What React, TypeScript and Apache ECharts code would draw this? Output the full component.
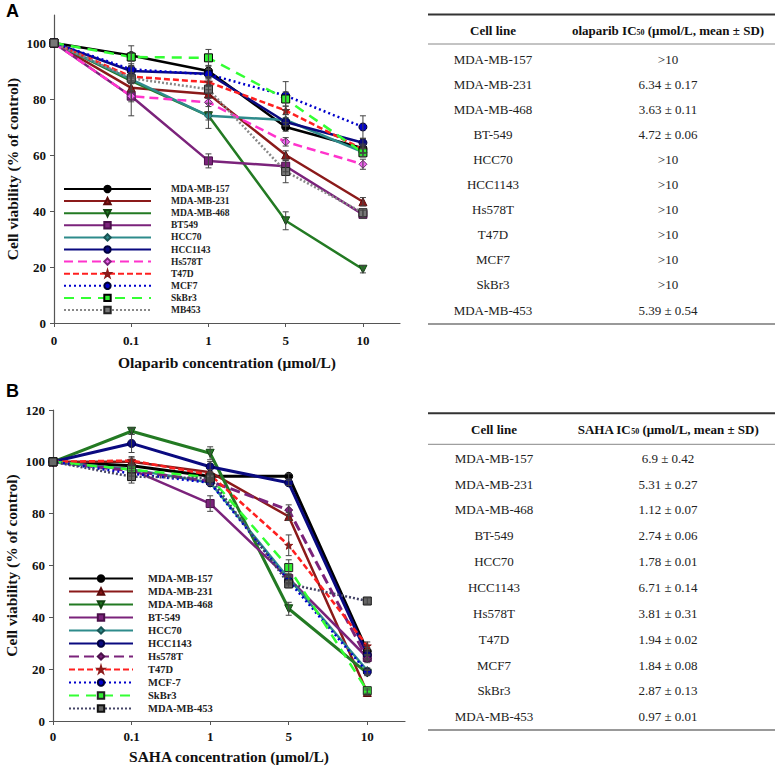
import React, { useEffect, useRef } from "react";
import * as echarts from "echarts";

// ---------- data ----------
const X_LABELS = ["0", "0.1", "1", "5", "10"];

const A_NAMES = ["MDA-MB-157", "MDA-MB-231", "MDA-MB-468", "BT549", "HCC70", "HCC1143", "Hs578T", "T47D", "MCF7", "SkBr3", "MB453"];
const A_MDA157 = [100, 95.5, 90.0, 70.0, 62.4];
const A_MDA231 = [100, 84.0, 81.8, 60.0, 43.3];
const A_MDA468 = [100, 86.5, 74.0, 36.5, 19.2];
const A_BT549 = [100, 81.0, 57.9, 56.0, 38.8];
const A_HCC70 = [100, 87.0, 74.0, 72.5, 61.0];
const A_HCC1143 = [100, 90.0, 89.0, 71.8, 64.4];
const A_HS578T = [100, 81.0, 78.8, 64.7, 56.7];
const A_T47D = [100, 88.0, 86.0, 75.9, 62.0];
const A_MCF7 = [100, 90.6, 88.8, 81.2, 70.0];
const A_SKBR3 = [100, 95.0, 94.7, 80.0, 60.8];
const A_MB453 = [100, 87.4, 83.5, 54.1, 39.4];

const A_ERR_MDA157 = [0, 3.5, 2, 1.5, 1.5];
const A_ERR_MDA231 = [0, 1.5, 1.5, 1.5, 1.5];
const A_ERR_MDA468 = [0, 1, 1.5, 3.2, 1.3];
const A_ERR_BT549 = [0, 7, 2.5, 2, 1.5];
const A_ERR_HCC70 = [0, 1.5, 4.5, 2, 1.5];
const A_ERR_HCC1143 = [0, 1.5, 1.5, 1.5, 1.5];
const A_ERR_HS578T = [0, 2, 1.5, 1.5, 1.8];
const A_ERR_T47D = [0, 1.5, 1.5, 1.5, 1.5];
const A_ERR_MCF7 = [0, 2, 2, 5, 4];
const A_ERR_SKBR3 = [0, 1.5, 3, 2.5, 1.5];
const A_ERR_MB453 = [0, 1.5, 1.5, 4, 1.5];

const B_NAMES = ["MDA-MB-157", "MDA-MB-231", "MDA-MB-468", "BT-549", "HCC70", "HCC1143", "Hs578T", "T47D", "MCF-7", "SkBr3", "MDA-MB-453"];
const B_MDA157 = [100, 98.5, 94.4, 94.4, 26.9];
const B_MDA231 = [100, 100.0, 96.0, 78.9, 11.0];
const B_MDA468 = [100, 111.8, 103.3, 43.3, 18.5];
const B_BT549 = [100, 97.0, 83.9, 55.0, 24.5];
const B_HCC70 = [100, 97.0, 92.0, 55.0, 19.5];
const B_HCC1143 = [100, 107.1, 98.1, 91.9, 25.5];
const B_HS578T = [100, 96.5, 92.5, 81.4, 24.0];
const B_T47D = [100, 100.5, 95.0, 67.8, 29.0];
const B_MCF7 = [100, 95.5, 91.9, 54.0, 18.9];
const B_SKBR3 = [100, 97.0, 94.0, 59.2, 11.7];
const B_MB453 = [100, 94.3, 93.7, 52.9, 46.3];

const B_ERR_MDA157 = [0, 1, 1, 1, 1.5];
const B_ERR_MDA231 = [0, 1.5, 1, 1.5, 1];
const B_ERR_MDA468 = [0, 1.2, 2.5, 2.5, 1];
const B_ERR_BT549 = [0, 1.5, 3, 2, 1];
const B_ERR_HCC70 = [0, 1, 1, 1.5, 1];
const B_ERR_HCC1143 = [0, 3.5, 2, 1, 1.5];
const B_ERR_HS578T = [0, 1, 1, 2, 1.5];
const B_ERR_T47D = [0, 1.5, 1, 4, 1.5];
const B_ERR_MCF7 = [0, 1, 1, 1.5, 1];
const B_ERR_SKBR3 = [0, 1.5, 1, 3, 1];
const B_ERR_MB453 = [0, 2.5, 1.5, 1.5, 1.2];

const TABLE_CELL_LINES = ["MDA-MB-157", "MDA-MB-231", "MDA-MB-468", "BT-549", "HCC70", "HCC1143", "Hs578T", "T47D", "MCF7", "SkBr3", "MDA-MB-453"];
const OLAPARIB_IC50 = [">10", "6.34 ± 0.17", "3.63 ± 0.11", "4.72 ± 0.06", ">10", ">10", ">10", ">10", ">10", ">10", "5.39 ± 0.54"];
const SAHA_IC50 = ["6.9 ± 0.42", "5.31 ± 0.27", "1.12 ± 0.07", "2.74 ± 0.06", "1.78 ± 0.01", "6.71 ± 0.14", "3.81 ± 0.31", "1.94 ± 0.02", "1.84 ± 0.08", "2.87 ± 0.13", "0.97 ± 0.01"];

const A_VALUES = [A_MDA157, A_MDA231, A_MDA468, A_BT549, A_HCC70, A_HCC1143, A_HS578T, A_T47D, A_MCF7, A_SKBR3, A_MB453];
const A_ERRORS = [A_ERR_MDA157, A_ERR_MDA231, A_ERR_MDA468, A_ERR_BT549, A_ERR_HCC70, A_ERR_HCC1143, A_ERR_HS578T, A_ERR_T47D, A_ERR_MCF7, A_ERR_SKBR3, A_ERR_MB453];
const B_VALUES = [B_MDA157, B_MDA231, B_MDA468, B_BT549, B_HCC70, B_HCC1143, B_HS578T, B_T47D, B_MCF7, B_SKBR3, B_MB453];
const B_ERRORS = [B_ERR_MDA157, B_ERR_MDA231, B_ERR_MDA468, B_ERR_BT549, B_ERR_HCC70, B_ERR_HCC1143, B_ERR_HS578T, B_ERR_T47D, B_ERR_MCF7, B_ERR_SKBR3, B_ERR_MB453];

// ---------- styles ----------
const SERIF = "'Liberation Serif', 'Times New Roman', serif";
const SANS = "'Liberation Sans', Arial, sans-serif";
const STAR = "path://M50,0 L61,35 L98,35 L68,57 L79,91 L50,70 L21,91 L32,57 L2,35 L39,35 Z";

type Sty = { color: string; dash?: number[]; width?: number; symbol: string; rotate?: number; fill: string; border: string };

const A_STYLES: Sty[] = [
  { color: "#000000", symbol: "circle", fill: "#000000", border: "#000000" },
  { color: "#8b1a1a", symbol: "triangle", fill: "#8b1a1a", border: "#5a0a0a" },
  { color: "#237a23", symbol: "triangle", rotate: 180, fill: "#237a23", border: "#124412" },
  { color: "#7b237b", symbol: "rect", fill: "#7b237b", border: "#4a104a" },
  { color: "#2e8b8b", symbol: "diamond", fill: "#2e8b8b", border: "#1a5555" },
  { color: "#0a0a80", symbol: "circle", fill: "#0a0a80", border: "#000040" },
  { color: "#ff33cc", dash: [9, 5], symbol: "diamond", fill: "#ee66ee", border: "#7b237b" },
  { color: "#ff2020", dash: [6, 3], symbol: STAR, fill: "#8b1a1a", border: "#8b1a1a" },
  { color: "#0000cc", dash: [2, 3], symbol: "circle", fill: "#0000cc", border: "#000033" },
  { color: "#33ff33", dash: [10, 7], symbol: "rect", fill: "#33ee33", border: "#000000" },
  { color: "#888888", dash: [2, 2], symbol: "rect", fill: "#777777", border: "#222222" },
];

const B_STYLES: Sty[] = [
  { color: "#000000", width: 3, symbol: "circle", fill: "#000000", border: "#000000" },
  { color: "#8b1a1a", symbol: "triangle", fill: "#8b1a1a", border: "#5a0a0a" },
  { color: "#237a23", width: 3, symbol: "triangle", rotate: 180, fill: "#237a23", border: "#124412" },
  { color: "#7b237b", symbol: "rect", fill: "#7b237b", border: "#4a104a" },
  { color: "#2e8b8b", symbol: "diamond", fill: "#2e8b8b", border: "#1a5555" },
  { color: "#0a0a80", width: 3, symbol: "circle", fill: "#0a0a80", border: "#000040" },
  { color: "#7b237b", dash: [10, 5], width: 3, symbol: "diamond", fill: "#7b237b", border: "#4a104a" },
  { color: "#ff2020", dash: [6, 3], symbol: STAR, fill: "#8b1a1a", border: "#8b1a1a" },
  { color: "#0000cc", dash: [2, 3], symbol: "circle", fill: "#0000cc", border: "#000033" },
  { color: "#33ff33", dash: [10, 7], symbol: "rect", fill: "#33ee33", border: "#222222" },
  { color: "#444466", dash: [2, 2], symbol: "rect", fill: "#666666", border: "#111111" },
];

function lineSeries(names: string[], values: number[][], styles: Sty[]) {
  return names.map((name, k) => {
    const s = styles[k];
    return {
      type: "line",
      name,
      data: values[k].map((v, i) => [i, v]),
      symbol: s.symbol,
      symbolSize: 8,
      symbolRotate: s.rotate ?? 0,
      showAllSymbol: true,
      lineStyle: { color: s.color, width: s.width ?? 2.5, type: s.dash ?? "solid" },
      itemStyle: { color: s.fill, borderColor: s.border, borderWidth: 1 },
      emphasis: { disabled: true },
      z: 3,
    };
  });
}

function errorSeries(values: number[][], errors: number[][]) {
  const data: number[][] = [];
  values.forEach((vals, k) => {
    vals.forEach((v, i) => {
      const e = errors[k][i];
      if (e > 0) data.push([i, v - e, v + e]);
    });
  });
  return {
    type: "custom",
    name: "err",
    data,
    encode: { x: 0, y: [1, 2] },
    z: 4,
    silent: true,
    renderItem: (_p: any, api: any) => {
      const x = api.value(0);
      const lo = api.coord([x, api.value(1)]);
      const hi = api.coord([x, api.value(2)]);
      const w = 3;
      const st = { stroke: "#444", lineWidth: 1 };
      return {
        type: "group",
        children: [
          { type: "line", shape: { x1: lo[0], y1: lo[1], x2: hi[0], y2: hi[1] }, style: st },
          { type: "line", shape: { x1: lo[0] - w, y1: lo[1], x2: lo[0] + w, y2: lo[1] }, style: st },
          { type: "line", shape: { x1: hi[0] - w, y1: hi[1], x2: hi[0] + w, y2: hi[1] }, style: st },
        ],
      };
    },
  };
}

type TableGeo = { x0: number; x1: number; c1: number; c2: number; topRule: number; headerY: number; headerRule: number; rowY0: number; rowStep: number; bottomRule: number };

function tableGraphics(geo: TableGeo, drugLabel: string, values: string[]) {
  const els: any[] = [];
  const rule = (y: number, w: number, c: string) => ({
    type: "line",
    shape: { x1: geo.x0, y1: y, x2: geo.x1, y2: y },
    style: { stroke: c, lineWidth: w },
  });
  els.push(rule(geo.topRule, 2, "#333"));
  els.push(rule(geo.headerRule, 1, "#888"));
  els.push(rule(geo.bottomRule, 1.5, "#777"));
  els.push({
    type: "text", x: geo.c1, y: geo.headerY,
    style: { text: "Cell line", align: "center", verticalAlign: "middle", fontFamily: SERIF, fontWeight: "bold", fontSize: 13, fill: "#111" },
  });
  els.push({
    type: "text", x: geo.c2, y: geo.headerY,
    style: {
      text: `{b|${drugLabel} IC}{s|50}{b| (μmol/L, mean ± SD)}`,
      align: "center", verticalAlign: "middle",
      rich: {
        b: { fontFamily: SERIF, fontWeight: "bold", fontSize: 13, fill: "#111" },
        s: { fontFamily: SERIF, fontWeight: "bold", fontSize: 8, fill: "#111", padding: [4, 0, 0, 0] },
      },
    },
  });
  TABLE_CELL_LINES.forEach((name, i) => {
    const y = geo.rowY0 + i * geo.rowStep;
    els.push({ type: "text", x: geo.c1, y, style: { text: name, align: "center", verticalAlign: "middle", fontFamily: SERIF, fontSize: 13, fill: "#222" } });
    els.push({ type: "text", x: geo.c2, y, style: { text: values[i], align: "center", verticalAlign: "middle", fontFamily: SERIF, fontSize: 13, fill: "#222" } });
  });
  return els;
}

type PanelCfg = {
  letter: string;
  names: string[];
  values: number[][];
  errors: number[][];
  styles: Sty[];
  grid: { left: number; right: number; top: number; bottom: number };
  xMax: number;
  yMax: number;
  yTicks: number[];
  xName: string;
  xNameGap: number;
  xLabelMargin: number;
  legend: { left: number; top: number; itemWidth: number; itemGap: number; fontSize: number; pad: number };
  table: TableGeo;
  drug: string;
  ic50: string[];
};

function buildOption(p: PanelCfg) {
  const axisLine = { show: true, lineStyle: { color: "#555", width: 1.2 } };
  const labelStyle = { fontFamily: SERIF, fontWeight: "bold" as const, fontSize: 13, color: "#111" };
  const nameStyle = { fontFamily: SERIF, fontWeight: "bold" as const, fontSize: 15.5, color: "#111" };
  return {
    animation: false,
    grid: { ...p.grid, containLabel: false },
    xAxis: {
      type: "value",
      min: 0,
      max: p.xMax,
      interval: 1,
      axisLine,
      axisTick: { show: true, length: 4, customValues: [0, 1, 2, 3, 4], lineStyle: { color: "#555" } },
      splitLine: { show: false },
      axisLabel: {
        ...labelStyle,
        margin: p.xLabelMargin,
        customValues: [0, 1, 2, 3, 4],
        formatter: (v: number) => (Number.isInteger(v) && v >= 0 && v < X_LABELS.length ? X_LABELS[v] : ""),
      },
      name: p.xName,
      nameLocation: "middle",
      nameGap: p.xNameGap,
      nameTextStyle: nameStyle,
    },
    yAxis: {
      type: "value",
      min: 0,
      max: p.yMax,
      interval: 20,
      axisLine,
      axisTick: { show: true, length: 4, customValues: p.yTicks, lineStyle: { color: "#555" } },
      splitLine: { show: false },
      axisLabel: {
        ...labelStyle,
        margin: 8,
        customValues: p.yTicks,
        formatter: (v: number) => (p.yTicks.indexOf(v) >= 0 ? String(v) : ""),
      },
      name: "Cell viability (% of control)",
      nameLocation: "middle",
      nameGap: 34,
      nameTextStyle: nameStyle,
    },
    legend: {
      data: p.names,
      orient: "vertical",
      left: p.legend.left,
      top: p.legend.top,
      itemWidth: p.legend.itemWidth,
      itemHeight: 8,
      itemGap: p.legend.itemGap,
      selectedMode: false,
      padding: 0,
      textStyle: { fontFamily: SERIF, fontWeight: "bold", fontSize: p.legend.fontSize, color: "#222", padding: [0, 0, 0, p.legend.pad] },
    },
    graphic: [
      {
        type: "text", x: 6, y: 2,
        style: { text: p.letter, fontFamily: SANS, fontWeight: "bold", fontSize: 18, fill: "#000" },
      },
      ...tableGraphics(p.table, p.drug, p.ic50),
    ],
    series: [...lineSeries(p.names, p.values, p.styles), errorSeries(p.values, p.errors)],
  };
}

const PANEL_A: PanelCfg = {
  letter: "A",
  names: A_NAMES,
  values: A_VALUES,
  errors: A_ERRORS,
  styles: A_STYLES,
  grid: { left: 54, right: 378, top: 15, bottom: 57 },
  xMax: 4.48,
  yMax: 110,
  yTicks: [0, 20, 40, 60, 80, 100],
  xName: "Olaparib concentration (μmol/L)",
  xNameGap: 31,
  xLabelMargin: 11,
  legend: { left: 63, top: 184, itemWidth: 87, itemGap: 2.1, fontSize: 9.5, pad: 15 },
  table: { x0: 428, x1: 775, c1: 493, c2: 668, topRule: 14.5, headerY: 30, headerRule: 44, rowY0: 59, rowStep: 25.1, bottomRule: 324 },
  drug: "olaparib",
  ic50: OLAPARIB_IC50,
};

const PANEL_B: PanelCfg = {
  letter: "B",
  names: B_NAMES,
  values: B_VALUES,
  errors: B_ERRORS,
  styles: B_STYLES,
  grid: { left: 53, right: 373, top: 30, bottom: 43 },
  xMax: 4.48,
  yMax: 120,
  yTicks: [0, 20, 40, 60, 80, 100, 120],
  xName: "SAHA concentration (μmol/L)",
  xNameGap: 27,
  xLabelMargin: 9,
  legend: { left: 68, top: 193, itemWidth: 64, itemGap: 2, fontSize: 10.5, pad: 10 },
  table: { x0: 428, x1: 775, c1: 494, c2: 668, topRule: 33.3, headerY: 49.3, headerRule: 64.3, rowY0: 78.3, rowStep: 25.84, bottomRule: 350 },
  drug: "SAHA",
  ic50: SAHA_IC50,
};

function Panel({ cfg, height }: { cfg: PanelCfg; height: number }) {
  const ref = useRef<HTMLDivElement>(null);
  useEffect(() => {
    if (!ref.current) return;
    const chart = echarts.init(ref.current, undefined, { renderer: "svg" });
    chart.setOption(buildOption(cfg) as any);
    return () => chart.dispose();
  }, [cfg]);
  return <div ref={ref} style={{ width: 778, height }} />;
}

export default function App() {
  useEffect(() => {
    document.body.style.margin = "0";
  }, []);
  return (
    <div style={{ position: "absolute", left: 0, top: 0, width: 778, height: 769, background: "#fff" }}>
      <Panel cfg={PANEL_A} height={380} />
      <Panel cfg={PANEL_B} height={389} />
    </div>
  );
}
